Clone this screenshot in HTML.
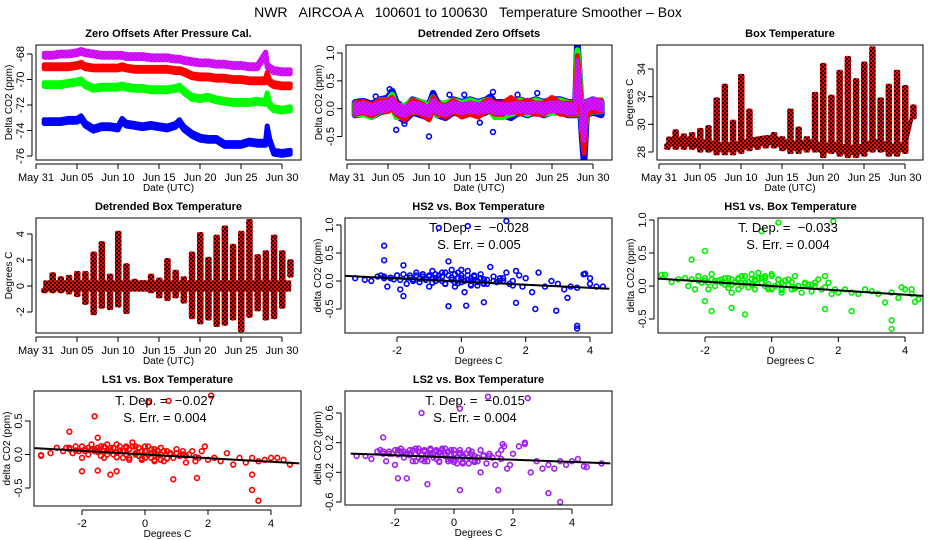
<!DOCTYPE html>
<html><head><meta charset="utf-8"><style>
html,body{margin:0;padding:0;background:#fff;}
svg{display:block;font-family:"Liberation Sans",sans-serif;}
</style></head><body>
<svg id="chart" width="936" height="540" viewBox="0 0 936 540">
<defs>
<pattern id="pat-purple" width="4" height="4" patternUnits="userSpaceOnUse"><rect width="4" height="4" fill="#a020f0"/><rect width="2" height="2" fill="#ff00ff"/><rect x="2" y="2" width="2" height="2" fill="#ff00ff"/></pattern>
<pattern id="pat-red" width="4" height="4" patternUnits="userSpaceOnUse"><rect width="4" height="4" fill="#ff0000"/><rect width="2" height="2" fill="#200000"/><rect x="2" y="2" width="2" height="2" fill="#200000"/></pattern>
</defs>
<text x="468" y="17" text-anchor="middle" font-size="14" style="white-space:pre">NWR   AIRCOA A   100601 to 100630   Temperature Smoother – Box</text>
</svg>
<script>
// ---------- data ----------
const tsDays = [1,2,3,4,5,5.5,6,7,8,9,10,10.5,11,12,13,14,15,16,17,17.5,18,19,20,21,22,23,24,25,26,27,28,28.2,28.5,29,30,31];
const zeroPurple = [-68.1,-68.1,-68.0,-68.0,-67.9,-67.8,-67.9,-68.0,-68.1,-68.1,-68.1,-68.1,-68.2,-68.2,-68.2,-68.3,-68.3,-68.3,-68.4,-68.4,-68.5,-68.6,-68.7,-68.7,-68.8,-68.8,-68.9,-68.9,-69.0,-69.0,-68.0,-68.9,-69.1,-69.3,-69.4,-69.4];
const zeroRed = [-69.0,-69.0,-69.0,-69.0,-68.9,-68.8,-69.0,-69.1,-69.1,-69.1,-69.1,-69.0,-69.1,-69.2,-69.2,-69.2,-69.2,-69.2,-69.3,-69.3,-69.4,-69.7,-69.8,-69.8,-69.9,-69.9,-70.0,-70.0,-70.1,-70.1,-70.1,-69.6,-70.2,-70.4,-70.5,-70.5];
const zeroGreen = [-70.4,-70.4,-70.4,-70.3,-70.2,-70.1,-70.4,-70.7,-70.6,-70.6,-70.6,-70.5,-70.6,-70.7,-70.7,-70.8,-70.8,-70.8,-70.7,-70.6,-70.9,-71.4,-71.5,-71.4,-71.6,-71.7,-71.8,-71.8,-71.8,-71.7,-71.8,-71.2,-72.0,-72.3,-72.4,-72.3];
const zeroBlue = [-73.3,-73.3,-73.3,-73.2,-73.2,-73.0,-73.5,-73.9,-73.7,-73.7,-73.8,-73.2,-73.5,-73.6,-73.7,-73.6,-73.7,-73.8,-73.6,-73.3,-73.8,-74.3,-74.6,-74.7,-74.7,-75.1,-75.1,-75.1,-74.9,-75.0,-75.0,-73.8,-74.8,-75.7,-75.8,-75.7];
const detDays = [1,2,3,4,5,5.5,6,7,8,9,10,10.5,11,12,13,14,15,16,17,17.5,18,19,20,21,22,23,24,25,26,27,27.9,28.1,28.4,28.7,28.9,29.2,30,31];
const detBlue = [0,0.02,-0.03,0.05,0.08,0.2,0,-0.1,0.05,0,-0.05,0.15,0,-0.05,0.05,0,0.05,0,0.05,0.1,0,0,-0.05,0.05,0,0.05,0,0.05,0.05,0,0,1.0,0.3,-0.4,-0.8,0.0,0.05,0];
const detGreen = [0,0,-0.05,0.05,0.05,0.15,-0.05,-0.05,0.05,0.02,-0.05,0.1,-0.02,0,0.05,0,0.05,0,0.05,0.05,-0.05,-0.05,0,0.05,0,0.05,0,0.03,0.05,0,0,0.95,0.4,-0.3,-0.6,0.0,0.05,0.05];
const detRed = [0,0.03,-0.03,0.05,0.05,0.1,0,-0.1,0.05,0,-0.1,0.1,0,-0.05,0.05,-0.05,0,-0.05,0.05,0.05,0,0,0.1,0,0.05,0,0,0.1,0,0,0,0.85,0.35,-0.35,-0.7,0.0,0.05,0.05];
const detPurple = [0,0.02,-0.02,0.03,0.05,0.1,0,-0.05,0.03,0,-0.05,0.08,0,-0.03,0.03,0,0.03,0,0.03,0.05,0,0,0,0.03,0,0.03,0,0.03,0.03,0,0,0.8,0.3,-0.3,-0.5,0.05,0.1,0.05];
const detOutDays = [5.2,5.5,6.0,10.0,10.5,12.5,17.8,17.8,23.2,3.5,7.0,20.8,16.2,14.3];
const detOutVals = [0.35,0.28,-0.38,-0.5,0.28,0.25,0.3,-0.42,0.28,0.22,-0.27,0.25,-0.25,0.25];
const boxDays = [1,2,3,4,5,6,7,8,9,10,11,12,13,14,15,16,17,18,19,20,21,22,23,24,25,26,27,28,29,30,31];
const boxMax = [28.5,29.5,29.2,29.3,29.6,29.8,31.8,32.8,30.2,33.5,31.0,28.8,28.7,29.3,29.0,31.0,29.7,29.0,32.2,34.3,32.0,33.8,34.8,33.2,34.4,35.5,31.8,32.8,33.8,32.7,31.3];
const boxMin = [28.3,28.3,28.3,28.3,28.1,28.1,27.9,27.9,27.9,28.0,28.2,28.3,28.4,28.4,28.2,28.0,28.0,28.1,28.1,27.7,28.0,27.8,27.7,27.7,27.8,28.1,28.1,27.8,27.8,28.0,30.5];
const dbMax = [-0.3,0.9,0.6,0.7,1.0,1.0,2.5,3.3,0.8,4.1,1.6,0.4,0.3,0.8,0.5,2.0,1.1,0.6,2.5,4.0,2.1,3.8,4.5,3.1,4.1,5.0,2.3,2.6,3.8,2.6,1.9];
const dbMin = [-0.4,-0.4,-0.4,-0.5,-0.7,-1.3,-2.1,-1.6,-1.7,-1.5,-2.0,-0.2,-0.2,-0.4,-0.8,-1.0,-0.8,-1.2,-2.4,-2.8,-2.5,-3.0,-2.9,-2.5,-3.4,-2.3,-1.8,-2.5,-2.4,-1.6,0.8];
const dateTicks = [0,5,10,15,20,25,30];
const dateLabels = ["May 31","Jun 05","Jun 10","Jun 15","Jun 20","Jun 25","Jun 30"];
const xTemp = [-3.3,-3.0,-2.8,-2.6,-2.5,-2.4,-2.3,-2.2,-2.1,-2.0,-1.9,-1.8,-1.7,-1.6,-1.5,-1.4,-1.3,-1.2,-1.1,-1.0,-0.9,-0.8,-0.7,-0.6,-0.5,-0.4,-0.3,-0.2,-0.1,0.0,0.1,0.2,0.3,0.4,0.5,0.6,0.7,0.8,0.9,1.0,1.1,1.2,1.3,1.4,1.5,1.6,1.7,1.8,1.9,2.0,2.2,2.4,2.6,2.8,3.0,3.2,3.4,3.6,3.8,4.0,4.2,4.4,-1.5,-1.0,-0.5,0.0,0.5,-1.2,-0.3,0.3,-0.8,-0.2,0.2,0.7,-1.7,1.2];
const hs2Y = [0.05,0.02,0.0,0.08,0.1,0.05,-0.1,0.06,0.03,0.1,-0.15,0.28,-0.05,0.1,0.02,0.15,-0.02,0.12,0.05,-0.1,0.18,0.0,0.1,0.15,-0.05,0.35,0.2,-0.1,0.15,0.05,-0.2,0.18,0.0,0.1,-0.08,0.12,0.03,-0.05,0.25,0.08,-0.02,0.05,0.0,0.15,-0.05,-0.08,0.18,0.1,-0.1,0.05,-0.2,0.15,-0.1,0.0,-0.05,-0.15,-0.1,-0.12,0.12,-0.05,-0.1,-0.1,0.0,0.08,-0.05,0.1,-0.02,0.12,0.06,-0.08,0.05,-0.03,0.02,-0.04,0.06,0.0];
const hs1Y = [0.17,0.06,0.1,0.12,0.0,0.1,-0.05,0.15,0.05,0.08,-0.05,0.18,0.0,0.08,0.1,0.02,0.12,-0.1,0.05,0.1,0.15,0.05,-0.02,0.18,0.1,0.2,0.05,0.12,-0.05,0.15,0.0,0.1,-0.1,0.08,0.02,-0.05,0.15,0.0,-0.1,0.05,0.02,-0.08,0.05,0.1,-0.05,0.15,0.05,-0.12,-0.05,-0.1,-0.05,-0.1,-0.12,-0.05,-0.08,-0.12,-0.25,-0.1,-0.18,-0.05,-0.12,-0.2,0.05,-0.05,0.08,-0.05,0.1,0.02,0.12,-0.05,0.05,0.0,0.03,-0.02,0.08,0.02];
const ls1Y = [-0.02,0.02,0.1,0.05,0.1,0.08,0.02,0.12,0.05,-0.05,0.08,0.0,0.15,0.05,0.1,-0.02,0.12,0.05,0.1,0.0,0.15,0.05,-0.05,0.12,0.08,0.18,0.0,0.1,-0.08,0.05,0.12,-0.05,0.08,0.0,0.1,-0.1,0.05,0.02,-0.05,0.08,-0.02,0.05,-0.12,0.0,0.05,-0.1,-0.05,0.05,0.12,-0.08,-0.05,-0.1,0.02,-0.15,-0.05,-0.12,-0.05,-0.1,-0.08,-0.05,-0.05,-0.08,0.05,0.1,-0.05,0.05,-0.08,0.0,0.12,-0.1,0.06,-0.02,0.02,-0.06,0.08,0.0];
const ls2Y = [0.02,0.02,-0.02,0.08,0.1,0.05,-0.05,0.08,0.05,-0.1,0.1,0.12,0.0,0.05,0.1,-0.05,0.12,0.08,-0.03,0.1,0.05,0.12,0.0,0.1,-0.05,0.12,0.05,-0.05,0.1,0.05,-0.08,0.1,0.0,0.05,-0.08,0.08,0.02,-0.05,0.1,0.03,-0.08,0.05,0.0,-0.1,0.05,0.1,0.15,-0.15,-0.1,0.05,0.15,0.18,-0.2,-0.05,-0.15,-0.1,-0.15,-0.05,-0.1,-0.05,-0.02,-0.12,0.05,-0.05,0.08,-0.03,0.1,0.0,0.12,-0.06,0.04,-0.02,0.06,-0.04,0.08,0.02];
const xCore = [-2.4,-2.2,-2.0,-1.9,-1.8,-1.6,-1.5,-1.4,-1.3,-1.2,-1.1,-1.0,-0.9,-0.8,-0.7,-0.6,-0.5,-0.4,-0.3,-0.2,-0.1,0.0,0.1,0.2,0.3,0.4,0.5,0.6,0.8,1.0,1.3,1.6,-1.3,-0.9,-0.5,-0.1,0.3,0.7,-0.6,0.0];
const hs2Core = [0.08,0.05,0.1,0.02,0.12,0.06,0.03,0.1,0.04,0.08,0.02,0.1,0.05,0.12,0.03,0.08,0.15,0.1,0.02,0.12,0.05,0.2,0.0,0.1,0.05,0.08,0.0,0.05,0.02,0.0,0.05,0.0,-0.02,-0.03,-0.05,-0.04,-0.06,-0.05,0.0,-0.02];
const hs1Core = [0.1,0.08,0.12,0.05,0.1,0.08,0.05,0.12,0.03,0.1,0.06,0.12,0.04,0.15,0.06,0.1,0.08,0.12,0.05,0.15,0.03,0.18,0.0,0.1,0.05,0.08,0.02,0.06,0.0,0.03,0.0,-0.02,-0.03,0.0,-0.05,-0.02,-0.06,-0.04,0.02,-0.04];
const ls1Core = [0.1,0.06,0.12,0.05,0.1,0.08,0.04,0.12,0.05,0.15,0.06,0.1,0.03,0.12,0.05,0.1,0.08,0.12,0.02,0.1,0.05,0.12,0.0,0.08,0.04,0.06,0.0,0.05,0.0,0.02,-0.02,-0.04,-0.05,-0.04,-0.08,-0.06,-0.08,-0.06,0.0,-0.05];
const ls2Core = [0.08,0.05,0.1,0.04,0.08,0.06,0.03,0.1,0.05,0.12,0.04,0.08,0.03,0.1,0.05,0.08,0.06,0.1,0.02,0.08,0.04,0.1,0.0,0.06,0.03,0.05,0.0,0.04,0.0,0.02,0.0,-0.02,-0.05,-0.05,-0.06,-0.04,-0.08,-0.06,-0.02,-0.06];
const hs2OutX = [-2.4,-2.4,-0.7,0.2,1.4,-1.8,-0.4,0.15,0.7,1.7,2.3,2.95,3.3,3.6,3.6,3.85,4.0];
const hs2OutY = [0.63,0.37,0.95,0.98,1.07,-0.27,-0.45,-0.44,-0.38,-0.39,-0.5,-0.53,-0.3,-0.8,-0.85,0.13,0.05];
const hs1OutX = [-2.4,-2.0,-0.3,0.2,1.85,-1.8,-0.8,-1.2,1.6,2.4,3.6,3.6,3.9,4.2,4.3,-3.2,-2.0];
const hs1OutY = [0.4,0.53,0.83,0.96,0.98,-0.38,-0.43,-0.33,-0.35,-0.38,-0.52,-0.65,-0.02,-0.05,-0.24,0.17,-0.23];
const ls1OutX = [-2.4,-1.6,0.1,0.75,2.1,-1.5,-1.5,-2.0,-0.9,-1.1,0.9,1.65,3.4,3.4,3.6,4.6,-3.3];
const ls1OutY = [0.34,0.57,0.78,0.8,0.88,0.25,-0.24,-0.25,-0.25,-0.3,-0.37,-0.35,-0.3,-0.53,-0.69,-0.15,-0.01];
const ls2OutX = [-2.4,-1.1,0.2,1.15,2.5,-1.9,-1.6,-0.9,0.2,1.5,3.2,3.6,0.9,5.0,4.5,2.4,1.65];
const ls2OutY = [0.27,0.6,0.66,0.82,0.8,-0.28,-0.28,-0.36,-0.44,-0.44,-0.48,-0.6,-0.2,-0.08,-0.13,0.2,0.18];
const fitSlopes = [-0.028,-0.033,-0.027,-0.015];
const fitIntercepts = [-0.01,0.0,0.0,0.0];
const fitRange = [[-3.6,4.6],[-3.4,4.6],[-3.5,4.9],[-3.5,5.3]];
const statDep = ["-0.028","-0.033","-0.027","-0.015"];
const statErr = ["0.005","0.004","0.004","0.004"];

// ---------- helpers ----------
const NS = "http://www.w3.org/2000/svg";
const svg = document.getElementById("chart");
function mk(tag, attrs, parent) {
  const e = document.createElementNS(NS, tag);
  for (const k in attrs) e.setAttribute(k, attrs[k]);
  (parent || svg).appendChild(e);
  return e;
}
function lin(v1, p1, v2, p2) { return v => p1 + (v - v1) * (p2 - p1) / (v2 - v1); }

function panel(cfg) {
  const g = mk("g", {});
  
  
  const b = cfg.box;
  const clipId = cfg.name + "-clip";
  const cp = mk("clipPath", {id: clipId}, g);
  mk("rect", {x: b[0], y: b[1], width: b[2]-b[0], height: b[3]-b[1]}, cp);
  const plot = mk("g", {"clip-path": "url(#" + clipId + ")"}, g);
  
  
  const frame = mk("rect", {x: b[0], y: b[1], width: b[2]-b[0], height: b[3]-b[1], fill: "none", stroke: "#000", "stroke-width": 1}, g);
  
  
  const t = mk("text", {x: (b[0]+b[2])/2, y: b[1]-8, "text-anchor": "middle", "font-size": 11, "font-weight": "bold"}, g);
  t.textContent = cfg.title;
  
  
  const xa = mk("g", {}, g);
  
  
  const xt = cfg.xTicks, ay = b[3] + 4;
  mk("line", {x1: cfg.sx(xt[0]), x2: cfg.sx(xt[xt.length-1]), y1: ay, y2: ay, stroke: "#000"}, xa);
  xt.forEach((v, i) => {
    const x = cfg.sx(v);
    mk("line", {x1: x, x2: x, y1: ay, y2: ay + 5, stroke: "#000"}, xa);
    const lt = mk("text", {x: x, y: ay + 17, "text-anchor": "middle", "font-size": 11}, xa);
    lt.textContent = cfg.xLabels[i];
    
    
  });
  const xl = mk("text", {x: (b[0]+b[2])/2, y: ay + 27, "text-anchor": "middle", "font-size": 10}, xa);
  xl.textContent = cfg.xTitle;
  
  
  const ya = mk("g", {}, g);
  
  
  const yt = cfg.yTicks, ax = b[0] - 4;
  mk("line", {x1: ax, x2: ax, y1: cfg.sy(yt[0]), y2: cfg.sy(yt[yt.length-1]), stroke: "#000"}, ya);
  yt.forEach((v, i) => {
    const y = cfg.sy(v);
    mk("line", {x1: ax - 5, x2: ax, y1: y, y2: y, stroke: "#000"}, ya);
    const lt = mk("text", {x: ax - 8, y: y, "text-anchor": "middle", "font-size": 11, transform: "rotate(-90 " + (ax - 8) + " " + y + ")"}, ya);
    lt.textContent = cfg.yLabels[i];
    
    
  });
  const ymid = (b[1]+b[3])/2, yx = b[0] - 24;
  const yl = mk("text", {x: yx, y: ymid, "text-anchor": "middle", "font-size": 10, transform: "rotate(-90 " + yx + " " + ymid + ")"}, ya);
  yl.textContent = cfg.yTitle;
  
  
  return {g, plot};
}

function band(parent, xs, ys, sx, sy, half, fill, name, sw) {
  const up = xs.map((x, i) => sx(x).toFixed(1) + "," + sy(ys[i] + half).toFixed(1));
  const dn = xs.map((x, i) => sx(x).toFixed(1) + "," + sy(ys[i] - half).toFixed(1)).reverse();
  const p = mk("polygon", {points: up.concat(dn).join(" "), fill: fill, stroke: fill, "stroke-width": sw || 3, "stroke-linejoin": "round"}, parent);
  
  
  return p;
}
function points(parent, xs, ys, sx, sy, color, name) {
  xs.forEach((x, i) => {
    const c = mk("circle", {cx: sx(x), cy: sy(ys[i]), r: 2.4, fill: "none", stroke: color, "stroke-width": 1.6}, parent);
    
    
  });
}

// ---------- panel 1 ----------
{
  const sx = lin(0, 36, 30, 282), sy = lin(-68, 54, -76, 156);
  const p = panel({name: "zero-offsets-panel", box: [36,45,301,160], title: "Zero Offsets After Pressure Cal.", sx, sy,
    xTicks: dateTicks, xLabels: dateLabels, xTitle: "Date (UTC)", yTicks: [-68,-70,-72,-74,-76], yLabels: ["-68","-70","-72","-74","-76"], yTitle: "Delta CO2 (ppm)"});
  band(p.plot, tsDays, zeroPurple, sx, sy, 0.15, "url(#pat-purple)", "series-ls2", 5);
  band(p.plot, tsDays, zeroRed, sx, sy, 0.15, "#ff0000", "series-ls1", 5);
  band(p.plot, tsDays, zeroGreen, sx, sy, 0.15, "#00ff00", "series-hs1", 5);
  band(p.plot, tsDays, zeroBlue, sx, sy, 0.15, "#0000ff", "series-hs2", 5);
}
// ---------- panel 2 ----------
{
  const sx = lin(0, 347, 30, 593), sy = lin(1.0, 53, -0.5, 136.5);
  const p = panel({name: "detrended-zero-offsets-panel", box: [346,45,612,160], title: "Detrended Zero Offsets", sx, sy,
    xTicks: dateTicks, xLabels: dateLabels, xTitle: "Date (UTC)", yTicks: [-0.5,0,0.5,1.0], yLabels: ["-0.5","0.0","0.5","1.0"], yTitle: "Delta CO2  (ppm)"});
  points(p.plot, detOutDays, detOutVals, sx, sy, "#0000ff", "outlier-point");
  band(p.plot, detDays, detBlue, sx, sy, 0.11, "#0000ff", "series-hs2", 7);
  band(p.plot, detDays, detGreen, sx, sy, 0.1, "#00ff00", "series-hs1", 6);
  band(p.plot, detDays, detRed, sx, sy, 0.1, "#ff0000", "series-ls1", 5);
  band(p.plot, detDays, detPurple, sx, sy, 0.08, "url(#pat-purple)", "series-ls2", 4);
}
// ---------- panels 3 & 4 (daily columns) ----------
function columns(parent, days, mx, mn, sx, sy, name) {
  days.forEach((d, i) => {
    const x = sx(d), y1 = sy(mx[i]), y2 = sy(mn[i]);
    const r = mk("rect", {x: x - 3, y: y1 - 2, width: 6.5, height: (y2 - y1) + 4, rx: 2, fill: "url(#pat-red)"}, parent);
    
    
  });
}
{
  const sx = lin(0, 659, 30, 905), sy = lin(34, 69, 28, 152);
  const p = panel({name: "box-temperature-panel", box: [657,45,923,160], title: "Box Temperature", sx, sy,
    xTicks: dateTicks, xLabels: dateLabels, xTitle: "Date (UTC)", yTicks: [28,30,32,34], yLabels: ["28","30","32","34"], yTitle: "Degrees C"});
  band(p.plot, boxDays, boxMin.map(v => v + 0.45), sx, sy, 0.3, "url(#pat-red)", "baseline-band", 2);
  columns(p.plot, boxDays, boxMax, boxMin, sx, sy, "day-column");
}
{
  const sx = lin(0, 36, 30, 282), sy = lin(4, 234, -2, 312);
  const p = panel({name: "detrended-box-temp-panel", box: [36,218,301,333], title: "Detrended Box Temperature", sx, sy,
    xTicks: dateTicks, xLabels: dateLabels, xTitle: "Date (UTC)", yTicks: [-2,0,2,4], yLabels: ["-2","0","2","4"], yTitle: "Degrees C"});
  band(p.plot, boxDays, boxDays.map(() => 0), sx, sy, 0.35, "url(#pat-red)", "baseline-band", 2);
  columns(p.plot, boxDays, dbMax, dbMin, sx, sy, "day-column");
}
// ---------- scatter panels ----------
const scatterCfg = [
  {name: "hs2-scatter-panel", title: "HS2 vs. Box Temperature", box: [345,218,612,333], sx: lin(-2,397,4,590), sy: lin(1.0,225,-0.5,309),
   ys: hs2Y, core: hs2Core, ox: hs2OutX, oy: hs2OutY, color: "#0000ff", yTicks: [-0.5,0,0.5,1.0], yLabels: ["-0.5","0.0","0.5","1.0"], tx: 479, ty: 232},
  {name: "hs1-scatter-panel", title: "HS1 vs. Box Temperature", box: [658,218,923,333], sx: lin(-2,705,4,905), sy: lin(1.0,220,-0.5,319),
   ys: hs1Y, core: hs1Core, ox: hs1OutX, oy: hs1OutY, color: "#00ee00", yTicks: [-0.5,0,0.5,1.0], yLabels: ["-0.5","0.0","0.5","1.0"], tx: 788, ty: 232},
  {name: "ls1-scatter-panel", title: "LS1 vs. Box Temperature", box: [34,391,301,506], sx: lin(-2,82,4,271), sy: lin(0.5,421,-0.5,488),
   ys: ls1Y, core: ls1Core, ox: ls1OutX, oy: ls1OutY, color: "#ff0000", yTicks: [-0.5,0,0.5], yLabels: ["-0.5","0.0","0.5"], tx: 165, ty: 405},
  {name: "ls2-scatter-panel", title: "LS2 vs. Box Temperature", box: [345,391,612,505], sx: lin(-2,395,4,572), sy: lin(0.6,413,-0.6,502),
   ys: ls2Y, core: ls2Core, ox: ls2OutX, oy: ls2OutY, color: "#a020f0", yTicks: [-0.6,-0.2,0.2,0.6], yLabels: ["-0.6","-0.2","0.2","0.6"], tx: 475, ty: 405}
];
scatterCfg.forEach((c, k) => {
  const p = panel({name: c.name, box: c.box, title: c.title, sx: c.sx, sy: c.sy,
    xTicks: [-2,0,2,4], xLabels: ["-2","0","2","4"], xTitle: "Degrees C", yTicks: c.yTicks, yLabels: c.yLabels, yTitle: "delta CO2 (ppm)"});
  points(p.plot, xTemp, c.ys, c.sx, c.sy, c.color, "data-point");
  points(p.plot, xCore, c.core, c.sx, c.sy, c.color, "data-point");
  points(p.plot, c.ox, c.oy, c.sx, c.sy, c.color, "data-point");
  const r = fitRange[k];
  const fl = mk("line", {x1: c.sx(r[0]), y1: c.sy(fitIntercepts[k] + fitSlopes[k]*r[0]), x2: c.sx(r[1]), y2: c.sy(fitIntercepts[k] + fitSlopes[k]*r[1]), stroke: "#000", "stroke-width": 2}, p.plot);
  
  
  const t1 = mk("text", {x: c.tx, y: c.ty, "text-anchor": "middle", "font-size": 13, style: "white-space:pre"}, p.g);
  t1.textContent = "T. Dep. =  " + statDep[k].replace("-", "\u2212");
  
  
  const t2 = mk("text", {x: c.tx, y: c.ty + 17, "text-anchor": "middle", "font-size": 13}, p.g);
  t2.textContent = "S. Err. =  " + statErr[k];
  
  
});
</script>
</body></html>
